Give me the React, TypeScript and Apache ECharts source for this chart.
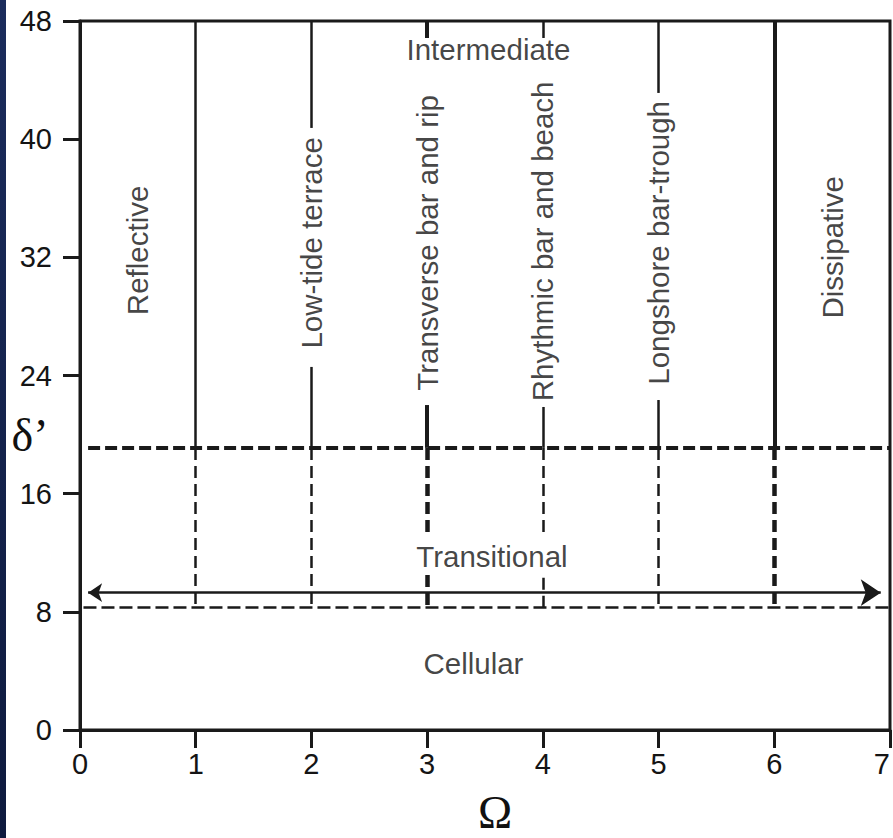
import React, { useEffect, useRef } from "react";
import * as echarts from "echarts";

// ---- data ----
const xMin = 0;
const xMax = 7;
const xStep = 1;
const yMin = 0;
const yMax = 48;
const yStep = 8;

const upperThreshold = 19.1;
const arrowLevel = 9.3;
const lowerThreshold = 8.3;
const upperLineStart = 0.07;
const lowerLineStart = 0.03;
const arrowStart = 0.07;
const arrowEnd = 6.92;

// solid boundary pieces above the threshold: [Ω, δ' from, δ' to]
const solidPieces: [number, number, number][] = [
  [1, 48, 19.1],
  [2, 48, 40.76],
  [2, 24.58, 19.1],
  [3, 48, 46.85],
  [3, 22.0, 19.1],
  [4, 48, 46.85],
  [4, 21.87, 19.1],
  [5, 48, 43.13],
  [5, 22.34, 19.1],
  [6, 48, 19.1],
];
// dashed boundary pieces below the threshold: [Ω, δ' from, δ' to]
const dashedPieces: [number, number, number][] = [
  [1, 19.1, 8.3],
  [2, 19.1, 8.3],
  [3, 19.1, 13.27],
  [3, 10.49, 8.3],
  [4, 19.1, 13.07],
  [4, 10.3, 8.3],
  [5, 19.1, 8.3],
  [6, 19.1, 8.3],
];

const verticalLabels = [
  "Reflective",
  "Low-tide terrace",
  "Transverse bar and rip",
  "Rhythmic bar and beach",
  "Longshore bar-trough",
  "Dissipative",
];
const verticalLabelOmega = [0.5, 2, 3, 4, 5, 6.5];
const verticalLabelDelta = [32.47, 32.98, 32.98, 33.08, 32.98, 32.68];

const horizontalLabels = ["Intermediate", "Transitional", "Cellular"];
const horizontalLabelOmega = [3.53, 3.56, 3.4];
const horizontalLabelDelta = [46.07, 11.75, 4.5];

const xAxisName = "Ω";
const yAxisName = "δ’";

// ---- styling (kept out of the data) ----
const INK = "#1a1a1a";
const TEXT = "#141414";
const SANS = "'Liberation Sans', Arial, Helvetica, sans-serif";
const SERIF = "'Liberation Serif', 'Times New Roman', serif";

const isThick = (x: number) => x === 3 || x === 6;

export default function App() {
  const ref = useRef<HTMLDivElement>(null);

  useEffect(() => {
    if (!ref.current) return;
    const chart = echarts.init(ref.current, undefined, { renderer: "svg" });

    const segments: any[] = [];
    solidPieces.forEach(([b, y0, y1]) => {
      segments.push({
        coords: [
          [b, y0],
          [b, y1],
        ],
        lineStyle: { color: INK, width: isThick(b) ? 4 : 2.5, type: "solid", opacity: 1 },
      });
    });
    dashedPieces.forEach(([b, y0, y1]) => {
      segments.push({
        coords: [
          [b, y0],
          [b, y1],
        ],
        lineStyle: { color: INK, width: isThick(b) ? 4.5 : 2.5, type: [12, 6], opacity: 1 },
      });
    });
    segments.push({
      coords: [
        [upperLineStart, upperThreshold],
        [xMax, upperThreshold],
      ],
      lineStyle: { color: INK, width: 4, type: [12, 5], opacity: 1 },
    });
    segments.push({
      coords: [
        [lowerLineStart, lowerThreshold],
        [xMax, lowerThreshold],
      ],
      lineStyle: { color: INK, width: 2.5, type: [13, 5], opacity: 1 },
    });

    const labelStyle = {
      show: true,
      position: "inside",
      align: "center",
      verticalAlign: "middle",
      fontSize: 29.5,
      fontFamily: SANS,
      color: TEXT,
    };

    const labelData: any[] = [];
    verticalLabels.forEach((name, i) => {
      labelData.push({
        value: [verticalLabelOmega[i], verticalLabelDelta[i]],
        label: { ...labelStyle, formatter: name, rotate: 90 },
      });
    });
    horizontalLabels.forEach((name, i) => {
      labelData.push({
        value: [horizontalLabelOmega[i], horizontalLabelDelta[i]],
        label: { ...labelStyle, formatter: name },
      });
    });

    chart.setOption({
      animation: false,
      backgroundColor: "#ffffff",
      grid: {
        left: 80,
        top: 21,
        width: 817,
        height: 709,
        show: true,
        borderColor: INK,
        borderWidth: 3,
        backgroundColor: "transparent",
      },
      xAxis: {
        type: "value",
        min: xMin,
        max: xMax,
        interval: xStep,
        axisLine: { show: true, lineStyle: { color: INK, width: 3 } },
        axisTick: { show: true, length: 18, lineStyle: { color: INK, width: 3 } },
        axisLabel: {
          margin: 19,
          fontSize: 29,
          fontFamily: SANS,
          color: TEXT,
          alignMaxLabel: "right",
        },
        splitLine: { show: false },
      },
      yAxis: {
        type: "value",
        min: yMin,
        max: yMax,
        interval: yStep,
        axisLine: { show: true, lineStyle: { color: INK, width: 3 } },
        axisTick: { show: true, length: 17, lineStyle: { color: INK, width: 3 } },
        axisLabel: { margin: 28, fontSize: 29, fontFamily: SANS, color: TEXT },
        splitLine: { show: false },
      },
      graphic: [
        {
          type: "rect",
          left: 0,
          top: 0,
          shape: { width: 6, height: 838 },
          style: {
            fill: new echarts.graphic.LinearGradient(0, 0, 0, 1, [
              { offset: 0, color: "#1b2c5c" },
              { offset: 1, color: "#0e1a3e" },
            ]),
          },
          z: 100,
        },
        {
          type: "text",
          x: 30,
          y: 435,
          style: {
            text: yAxisName,
            fontSize: 46,
            fontFamily: SERIF,
            fill: "#111",
            align: "center",
            verticalAlign: "middle",
          },
          z: 100,
        },
        {
          type: "text",
          x: 495,
          y: 812,
          style: {
            text: xAxisName,
            fontSize: 46,
            fontFamily: SERIF,
            fill: "#111",
            align: "center",
            verticalAlign: "middle",
          },
          z: 100,
        },
      ],
      series: [
        {
          type: "lines",
          coordinateSystem: "cartesian2d",
          polyline: false,
          symbol: ["none", "none"],
          silent: true,
          z: 2,
          lineStyle: { opacity: 1 },
          data: segments,
        },
        {
          type: "lines",
          coordinateSystem: "cartesian2d",
          polyline: false,
          symbol: ["arrow", "arrow"],
          symbolSize: [14, 20],
          silent: true,
          z: 2,
          lineStyle: { color: INK, width: 2.5, opacity: 1 },
          itemStyle: { color: INK },
          data: [
            {
              coords: [
                [arrowStart, arrowLevel],
                [arrowEnd, arrowLevel],
              ],
            },
          ],
        },
        {
          type: "scatter",
          symbolSize: 0,
          silent: true,
          z: 5,
          data: labelData,
        },
      ],
    });

    return () => chart.dispose();
  }, []);

  return (
    <div
      style={{
        position: "fixed",
        left: 0,
        top: 0,
        width: 893,
        height: 838,
        overflow: "hidden",
        background: "#fff",
      }}
    >
      <div ref={ref} style={{ width: 893, height: 838 }} />
    </div>
  );
}
